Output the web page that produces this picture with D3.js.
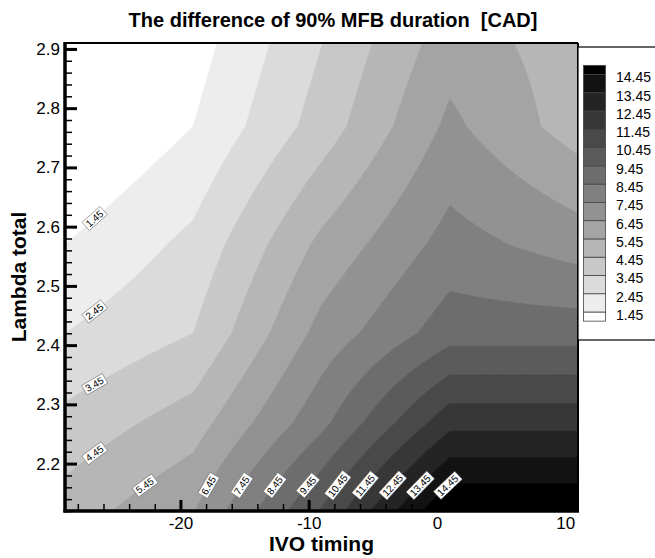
<!DOCTYPE html>
<html>
<head>
<meta charset="utf-8">
<script src="https://cdn.jsdelivr.net/npm/d3@7"></script>
<style>
body { margin: 0; background: #fff; }
text { font-family: "Liberation Sans", Arial, sans-serif; }
</style>
</head>
<body>
<div id="chart"></div>
<script>
// grid of the measured field: columns follow ivo, one row per lambda value
var ivo = [-29, -19, -9, 1, 11];
var lambda = [2.12, 2.27, 2.42, 2.57, 2.77, 2.91];
var mfb212 = [4.9, 6.4, 10.55, 15.5, 15.5];
var mfb227 = [3.74, 4.95, 8.15, 12.1, 12.1];
var mfb242 = [2.45, 3.45, 6.8, 9.0, 9.0];
var mfb257 = [1.45, 2.71, 5.7, 7.84, 6.99];
var mfb277 = [0.1, 1.45, 3.9, 6.67, 4.95];
var mfb291 = [-1.0, 1.0, 3.43, 6.0, 4.9];

var levels = [1.45, 2.45, 3.45, 4.45, 5.45, 6.45, 7.45, 8.45, 9.45, 10.45, 11.45, 12.45, 13.45, 14.45];
var xTicks = [-20, -10, 0, 10];
var yTicks = [2.2, 2.3, 2.4, 2.5, 2.6, 2.7, 2.8, 2.9];

var grid = [mfb212, mfb227, mfb242, mfb257, mfb277, mfb291];

var svgWidth = 655;
var svgHeight = 558;
var plot = {left: 65, right: 578, top: 43, bottom: 511};

var svg = d3.select("#chart")
  .append("svg")
  .attr("width", svgWidth)
  .attr("height", svgHeight);

var x = d3.scaleLinear()
  .domain([ivo[0], ivo[ivo.length - 1]])
  .range([plot.left, plot.right]);

var y = d3.scaleLinear()
  .domain([lambda[0], lambda[lambda.length - 1]])
  .range([plot.bottom, plot.top]);

var gray = d3.scaleLinear()
  .domain([0, levels.length])
  .range(["#ffffff", "#000000"]);

// bilinear value inside one grid cell
function field(xv, lv) {
  var i = Math.max(0, Math.min(ivo.length - 2, d3.bisectRight(ivo, xv) - 1));
  var j = Math.max(0, Math.min(lambda.length - 2, d3.bisectRight(lambda, lv) - 1));
  var s = (xv - ivo[i]) / (ivo[i + 1] - ivo[i]);
  var t = (lv - lambda[j]) / (lambda[j + 1] - lambda[j]);
  return (1 - s) * (1 - t) * grid[j][i] + s * (1 - t) * grid[j][i + 1]
    + (1 - s) * t * grid[j + 1][i] + s * t * grid[j + 1][i + 1];
}

var nx = 360, ny = 330;
var pw = plot.right - plot.left, ph = plot.bottom - plot.top;
var values = new Array(nx * ny);
for (var j = 0; j < ny; j++) {
  for (var i = 0; i < nx; i++) {
    var xv = x.invert(plot.left + (i + 0.5) / nx * pw);
    var lv = y.invert(plot.top + (j + 0.5) / ny * ph);
    values[i + j * nx] = field(xv, lv);
  }
}

var bands = d3.contours()
  .size([nx, ny])
  .thresholds(levels)(values);

var path = d3.geoPath(d3.geoTransform({
  point: function(px, py) {
    this.stream.point(plot.left + px / nx * pw, plot.top + py / ny * ph);
  }
}));

svg.append("clipPath").attr("id", "clip")
  .append("rect")
  .attr("x", plot.left).attr("y", plot.top)
  .attr("width", pw).attr("height", ph);

var bandGroup = svg.append("g").attr("clip-path", "url(#clip)");

bandGroup.append("rect")
  .attr("x", plot.left).attr("y", plot.top)
  .attr("width", pw).attr("height", ph)
  .attr("fill", gray(0));

bandGroup.selectAll("path.band")
  .data(bands)
  .enter()
  .append("path")
  .attr("class", "band")
  .attr("d", path)
  .attr("fill", (d, k) => gray(k + 1))
  .attr("stroke", (d, k) => gray(k + 1))
  .attr("stroke-width", 0.4);

// contour labels
function crossing(level, fromPt, toPt) {
  var steps = 800;
  var prev = field(fromPt[0], fromPt[1]);
  for (var k = 1; k <= steps; k++) {
    var f = k / steps;
    var xv = fromPt[0] + (toPt[0] - fromPt[0]) * f;
    var lv = fromPt[1] + (toPt[1] - fromPt[1]) * f;
    var cur = field(xv, lv);
    if ((prev - level) * (cur - level) <= 0 && prev !== cur) {
      var r = (level - prev) / (cur - prev);
      var f0 = (k - 1 + r) / steps;
      return [fromPt[0] + (toPt[0] - fromPt[0]) * f0, fromPt[1] + (toPt[1] - fromPt[1]) * f0];
    }
    prev = cur;
  }
  return null;
}

function labelAngle(px, py) {
  var gx = field(x.invert(px + 1), y.invert(py)) - field(x.invert(px - 1), y.invert(py));
  var gy = field(x.invert(px), y.invert(py + 1)) - field(x.invert(px), y.invert(py - 1));
  var tx = gy, ty = -gx;
  if (tx < 0) { tx = -tx; ty = -ty; }
  return Math.atan2(ty, tx) * 180 / Math.PI;
}

var labelSpots = [];
levels.slice(0, 4).forEach(function(lev) {
  var p = crossing(lev, [-26.7, 2.91], [-26.7, 2.12]);
  if (p) labelSpots.push({level: lev, pt: p});
});
levels.slice(4).forEach(function(lev) {
  var p = crossing(lev, [-29, 2.163], [11, 2.163]);
  if (p) labelSpots.push({level: lev, pt: p});
});

var labels = svg.append("g").selectAll("g")
  .data(labelSpots)
  .enter()
  .append("g")
  .attr("transform", function(d) {
    var px = x(d.pt[0]), py = y(d.pt[1]);
    return `translate(${px},${py}) rotate(${labelAngle(px, py)})`;
  });

labels.append("rect");
labels.append("text")
  .attr("text-anchor", "middle")
  .attr("dy", "0.35em")
  .attr("font-size", "10px")
  .text(d => d.level.toFixed(2));

labels.each(function() {
  var g = d3.select(this);
  var bb = g.select("text").node().getBBox();
  g.select("rect")
    .attr("x", bb.x - 2).attr("y", bb.y)
    .attr("width", bb.width + 4).attr("height", bb.height)
    .attr("fill", "#fff")
    .attr("stroke", "#555")
    .attr("stroke-width", 0.5);
});

// axes
var xAxis = svg.append("g")
  .attr("transform", `translate(0, ${plot.bottom})`)
  .call(d3.axisBottom(x).tickValues(xTicks).tickSize(-11).tickPadding(6).tickFormat(d => String(d)));
xAxis.select(".domain").remove();
xAxis.selectAll("line").attr("stroke-width", 3);
xAxis.selectAll("text").attr("font-size", "17px").attr("fill", "#000");

var xMinor = svg.append("g")
  .attr("transform", `translate(0, ${plot.bottom})`)
  .call(d3.axisBottom(x).ticks(20).tickSize(-7).tickFormat(""));
xMinor.select(".domain").remove();
xMinor.selectAll("line").attr("stroke-width", 1.5);

var yAxis = svg.append("g")
  .attr("transform", `translate(${plot.left}, 0)`)
  .call(d3.axisLeft(y).tickValues(yTicks).tickSize(-12).tickPadding(5).tickFormat(d3.format(".1f")));
yAxis.select(".domain").remove();
yAxis.selectAll("line").attr("stroke-width", 3);
yAxis.selectAll("text").attr("font-size", "17px").attr("fill", "#000");

var yMinor = svg.append("g")
  .attr("transform", `translate(${plot.left}, 0)`)
  .call(d3.axisLeft(y).ticks(40).tickSize(-7).tickFormat(""));
yMinor.select(".domain").remove();
yMinor.selectAll("line").attr("stroke-width", 1.5);

// frame
svg.append("line")
  .attr("x1", plot.left).attr("x2", plot.right)
  .attr("y1", plot.top).attr("y2", plot.top)
  .attr("stroke", "#000").attr("stroke-width", 2);
svg.append("line")
  .attr("x1", plot.right).attr("x2", plot.right)
  .attr("y1", plot.top).attr("y2", plot.bottom)
  .attr("stroke", "#000").attr("stroke-width", 2);
svg.append("line")
  .attr("x1", plot.left - 1.5).attr("x2", plot.right + 1)
  .attr("y1", plot.bottom).attr("y2", plot.bottom)
  .attr("stroke", "#000").attr("stroke-width", 3.5);
svg.append("line")
  .attr("x1", plot.left).attr("x2", plot.left)
  .attr("y1", plot.top - 1).attr("y2", plot.bottom + 1.5)
  .attr("stroke", "#000").attr("stroke-width", 3.5);

// titles
svg.append("text")
  .attr("x", 333)
  .attr("y", 27)
  .attr("text-anchor", "middle")
  .attr("font-size", "20px")
  .attr("font-weight", "bold")
  .style("white-space", "pre")
  .text("The difference of 90% MFB duration  [CAD]");

svg.append("text")
  .attr("x", (plot.left + plot.right) / 2)
  .attr("y", 551)
  .attr("text-anchor", "middle")
  .attr("font-size", "21px")
  .attr("font-weight", "bold")
  .text("IVO timing");

svg.append("text")
  .attr("transform", `translate(26, ${(plot.top + plot.bottom) / 2}) rotate(-90)`)
  .attr("text-anchor", "middle")
  .attr("font-size", "21px")
  .attr("font-weight", "bold")
  .text("Lambda total");

// legend
var legend = svg.append("g");
legend.append("rect")
  .attr("x", plot.right).attr("y", 47)
  .attr("width", 90).attr("height", 293)
  .attr("fill", "#fff")
  .attr("stroke", "#000")
  .attr("stroke-width", 1.2);

var yLeg = d3.scaleLinear()
  .domain([levels[levels.length - 1], levels[0]])
  .range([74.5, 312]);

var swatches = [];
for (var k = 0; k <= levels.length; k++) {
  var hi = k < levels.length ? levels[k] : levels[levels.length - 1] + 0.5;
  var lo = k > 0 ? levels[k - 1] : levels[0] - 0.5;
  swatches.push({band: k, hi: hi, lo: lo});
}

legend.selectAll("rect.sw")
  .data(swatches)
  .enter()
  .append("rect")
  .attr("class", "sw")
  .attr("x", 583.5)
  .attr("width", 22)
  .attr("y", d => yLeg(d.hi))
  .attr("height", d => yLeg(d.lo) - yLeg(d.hi))
  .attr("fill", d => gray(d.band))
  .attr("stroke", "#444")
  .attr("stroke-width", 0.8);

legend.selectAll("text")
  .data(levels)
  .enter()
  .append("text")
  .attr("x", 616)
  .attr("y", d => yLeg(d) + 3)
  .attr("dy", "0.35em")
  .attr("font-size", "14px")
  .text(d => d.toFixed(2));
</script>
</body>
</html>
